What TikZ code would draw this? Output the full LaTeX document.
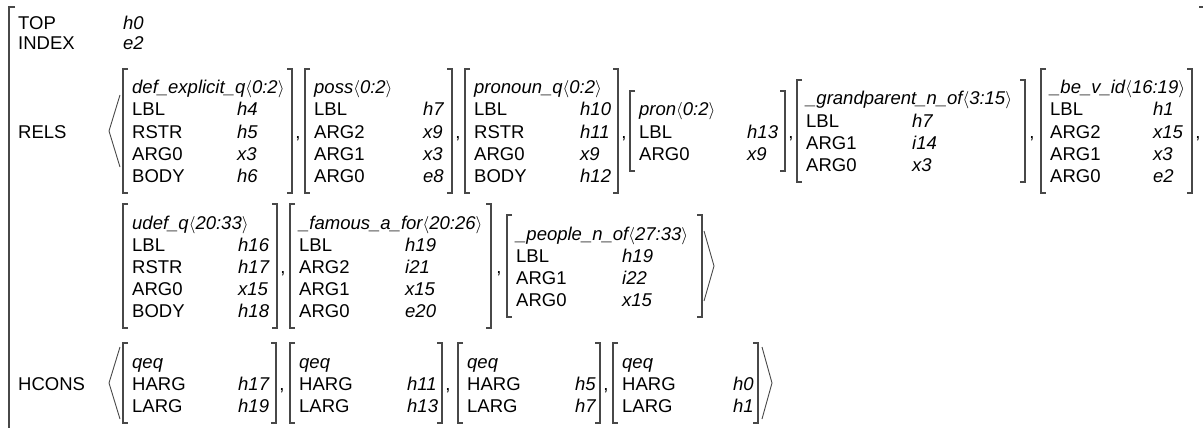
\documentclass[tikz,border=0pt]{standalone}
\usepackage{fontspec}
\setmainfont{Liberation Sans}
\usepackage{tikz}
\definecolor{bracketGray}{RGB}{72, 72, 72}
\newcommand{\avmfont}{\fontsize{18.5}{22}\selectfont}

% one feature structure: name, left x, value column, right x, centre y, rows, head, feature/value pairs
\newcommand{\avmbox}[8]{%
  \pgfmathsetmacro{\avmtop}{#5-(22*#6+14)/2}%
  \pgfmathsetmacro{\avmbot}{#5+(22*#6+14)/2}%
  \node[head] (#1-h) at (#2+9,\avmtop+25) {#7};%
  \foreach \f/\v [count=\i] in {#8} {%
    \node[feat] (#1-f\i) at (#2+9,\avmtop+25+22*\i) {\f};%
    \node[val] (#1-v\i) at (#3,\avmtop+25+22*\i) {\v};%
  }%
  \draw[bracket] (#2+5,\avmtop) -- (#2,\avmtop) -- (#2,\avmbot) -- (#2+5,\avmbot);%
  \draw[bracket] (#4-5,\avmtop) -- (#4,\avmtop) -- (#4,\avmbot) -- (#4-5,\avmbot);%
}

\begin{document}
\begin{tikzpicture}[
    x=1pt, y=-1pt,
    feat/.style={anchor=base west, inner sep=0pt, font=\avmfont},
    val/.style={feat, font=\avmfont\itshape},
    head/.style={val},
    sep/.style={anchor=base, inner sep=0pt, font=\avmfont},
    bracket/.style={draw=bracketGray, line width=1.3pt},
    angl/.style={draw=bracketGray, line width=0.9pt}
]
    \useasboundingbox (0,0) rectangle (1203,428);

    % Outer structure
    \draw[bracket] (15,7) -- (9,7) -- (9,436);
    \draw[bracket] (1199,7) -- (1209,7);
    \node[feat] (top) at (18,30) {TOP};
    \node[val] (topv) at (123,30) {h0};
    \node[feat] (index) at (18,50) {INDEX};
    \node[val] (indexv) at (123,50) {e2};
    \node[feat] (rels) at (18,138) {RELS};
    \node[feat] (hcons) at (18,390) {HCONS};

    % RELS, first line
    \draw[angl] (120,95) -- (109,131) -- (120,167);
    \avmbox{dq}{123}{237}{292}{131}{5}{def\_explicit\_q$\langle$0:2$\rangle$}{LBL/h4,RSTR/h5,ARG0/x3,BODY/h6}
    \avmbox{ps}{305}{423}{452}{131}{5}{poss$\langle$0:2$\rangle$}{LBL/h7,ARG2/x9,ARG1/x3,ARG0/e8}
    \avmbox{pq}{465}{580}{618}{131}{5}{pronoun\_q$\langle$0:2$\rangle$}{LBL/h10,RSTR/h11,ARG0/x9,BODY/h12}
    \avmbox{pr}{630}{747}{785}{131}{3}{pron$\langle$0:2$\rangle$}{LBL/h13,ARG0/x9}
    \avmbox{gp}{797}{912}{1025}{131}{4}{\_grandparent\_n\_of$\langle$3:15$\rangle$}{LBL/h7,ARG1/i14,ARG0/x3}
    \avmbox{be}{1041}{1153}{1192}{131}{5}{\_be\_v\_id$\langle$16:19$\rangle$}{LBL/h1,ARG2/x15,ARG1/x3,ARG0/e2}
    \foreach \x [count=\i] in {298,458,624,791,1032,1198}
        \node[sep] (ra\i) at (\x,138) {,};

    % RELS, second line
    \avmbox{ud}{123}{238}{277}{266}{5}{udef\_q$\langle$20:33$\rangle$}{LBL/h16,RSTR/h17,ARG0/x15,BODY/h18}
    \avmbox{fm}{290}{405}{491}{266}{5}{\_famous\_a\_for$\langle$20:26$\rangle$}{LBL/h19,ARG2/i21,ARG1/x15,ARG0/e20}
    \avmbox{pp}{507}{622}{702}{266}{4}{\_people\_n\_of$\langle$27:33$\rangle$}{LBL/h19,ARG1/i22,ARG0/x15}
    \foreach \x [count=\i] in {283,499}
        \node[sep] (rb\i) at (\x,273) {,};
    \draw[angl] (704,231) -- (714,266) -- (704,301);

    % HCONS
    \draw[angl] (120,347) -- (109,383) -- (120,419);
    \avmbox{qa}{123}{238}{276}{383}{3}{qeq}{HARG/h17,LARG/h19}
    \avmbox{qb}{290}{407}{442}{383}{3}{qeq}{HARG/h11,LARG/h13}
    \avmbox{qc}{458}{575}{600}{383}{3}{qeq}{HARG/h5,LARG/h7}
    \avmbox{qd}{613}{733}{758}{383}{3}{qeq}{HARG/h0,LARG/h1}
    \foreach \x [count=\i] in {282,448,606}
        \node[sep] (hc\i) at (\x,390) {,};
    \draw[angl] (762,347) -- (772,383) -- (762,419);
\end{tikzpicture}
\end{document}
